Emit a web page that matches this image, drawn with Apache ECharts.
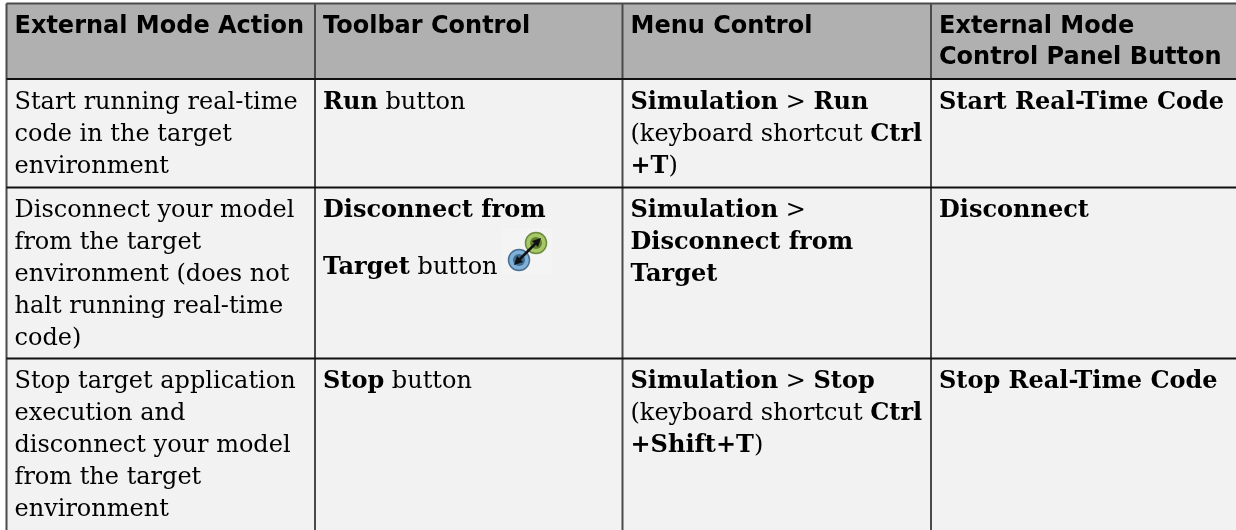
<!DOCTYPE html>
<html>
<head>
<meta charset="utf-8">
<title>External Mode Actions</title>
<script src="https://cdn.jsdelivr.net/npm/echarts@6/dist/echarts.min.js"></script>
<style>
html,body{margin:0;padding:0;background:#fff;}
#chart{width:1236px;height:530px;filter:blur(0.4px);}
</style>
</head>
<body>
<div id="chart"></div>
<script>
// table text, one array per column, one string per printed line
var headers = [
    ['External Mode Action'],
    ['Toolbar Control'],
    ['Menu Control'],
    ['External Mode', 'Control Panel Button']
];
var actions = [
    ['Start running real-time', 'code in the target', 'environment'],
    ['Disconnect your model', 'from the target', 'environment (does not', 'halt running real-time', 'code)'],
    ['Stop target application', 'execution and', 'disconnect your model', 'from the target', 'environment']
];
var toolbarControls = [
    ['{b|Run} button'],
    ['{b|Disconnect from}', '{b|Target} button'],
    ['{b|Stop} button']
];
var menuControls = [
    ['{b|Simulation} > {b|Run}', '(keyboard shortcut {b|Ctrl}', '{b|+T})'],
    ['{b|Simulation} >', '{b|Disconnect from}', '{b|Target}'],
    ['{b|Simulation} > {b|Stop}', '(keyboard shortcut {b|Ctrl}', '{b|+Shift+T})']
];
var panelButtons = [
    ['{b|Start Real-Time Code}'],
    ['{b|Disconnect}'],
    ['{b|Stop Real-Time Code}']
];

var columns = [actions, toolbarControls, menuControls, panelButtons];

// layout, in page pixels
var colEdges = [6.5, 315, 622.5, 931, 1236];
var rowEdges = [3.5, 79, 187.5, 358.5, 530];
var padX = 8;
var headLine = 31;
var bodyLine = 32;
var fontPx = 24;

var serif = '"DejaVu Serif"';
var sans = '"DejaVu Sans"';

var cells = [];
for (var c = 0; c < 4; c++) {
    for (var r = 0; r < 4; r++) {
        cells.push([c, r]);
    }
}

function cellLines(c, r) {
    return r === 0 ? headers[c] : columns[c][r - 1];
}

function renderCell(params, api) {
    var c = api.value(0), r = api.value(1);
    var p0 = api.coord([colEdges[c], rowEdges[r]]);
    var p1 = api.coord([colEdges[c + 1], rowEdges[r + 1]]);
    var children = [{
        type: 'rect',
        shape: {x: p0[0], y: p0[1], width: p1[0] - p0[0], height: p1[1] - p0[1]},
        style: {fill: r === 0 ? '#b0b0b0' : '#f2f2f2'}
    }];
    var lines = cellLines(c, r);
    var step = r === 0 ? headLine : bodyLine;
    var first = r === 0 ? p0[1] + 23 : p0[1] + 23.5;
    for (var i = 0; i < lines.length; i++) {
        // the line with the icon sits lower in the reference
        var extra = (c === 1 && r === 2 && i === 1) ? 25 : 0;
        children.push({
            type: 'text',
            style: {
                x: p0[0] + padX,
                y: first + step * i + extra,
                text: lines[i],
                fill: '#000',
                fontFamily: r === 0 ? sans : serif,
                fontWeight: r === 0 ? 'bold' : 'normal',
                fontSize: fontPx,
                verticalAlign: 'middle',
                rich: {b: {fontFamily: serif, fontWeight: 'bold', fontSize: fontPx, fill: '#000'}}
            }
        });
    }
    return {type: 'group', children: children};
}

function renderBorders(params, api) {
    var children = [];
    var i, a, b;
    for (i = 0; i < 4; i++) {
        a = api.coord([colEdges[i], rowEdges[0]]);
        b = api.coord([colEdges[i], rowEdges[4]]);
        children.push({type: 'line', shape: {x1: a[0], y1: a[1], x2: b[0], y2: b[1]},
            style: {stroke: '#4a4a4a', lineWidth: 2}});
    }
    for (i = 0; i < 4; i++) {
        a = api.coord([colEdges[0], rowEdges[i]]);
        b = api.coord([colEdges[4], rowEdges[i]]);
        children.push({type: 'line', shape: {x1: a[0], y1: a[1], x2: b[0], y2: b[1]},
            style: {stroke: i === 0 ? '#4a4a4a' : '#111', lineWidth: 2}});
    }
    return {type: 'group', children: children};
}

// the small toolbar glyph beside "Target button"
function renderIcon(params, api) {
    var o = api.coord([api.value(0), api.value(1)]);
    return {
        type: 'group',
        x: o[0], y: o[1],
        children: [
            {type: 'rect', shape: {x: -17, y: -32, width: 50, height: 47}, style: {fill: '#f4f4f4'}},
            {type: 'circle', shape: {cx: 0, cy: 0, r: 10.5}, style: {fill: '#7fb0d8', stroke: '#4a6f92', lineWidth: 1.5}},
            {type: 'circle', shape: {cx: 0, cy: 0, r: 6}, style: {fill: '#3f6a90'}},
            {type: 'circle', shape: {cx: 17, cy: -17, r: 10.5}, style: {fill: '#a8c868', stroke: '#6a8a3e', lineWidth: 1.5}},
            {type: 'circle', shape: {cx: 17, cy: -17, r: 6}, style: {fill: '#5e7f30'}},
            {type: 'line', shape: {x1: 0, y1: 0, x2: 17, y2: -17}, style: {stroke: '#111', lineWidth: 2.5}},
            {type: 'polygon', shape: {points: [[-5, 5], [4, 2], [-2, -4]]}, style: {fill: '#111'}},
            {type: 'polygon', shape: {points: [[22, -22], [13, -19], [19, -13]]}, style: {fill: '#111'}}
        ]
    };
}

var chart = echarts.init(document.getElementById('chart'), null, {renderer: 'canvas'});
chart.setOption({
    animation: false,
    tooltip: {show: false},
    grid: {left: 0, right: 0, top: 0, bottom: 0},
    xAxis: {type: 'value', min: 0, max: 1236, show: false},
    yAxis: {type: 'value', min: 0, max: 530, inverse: true, show: false},
    series: [
        {type: 'custom', renderItem: renderCell, data: cells, clip: false, silent: true, z: 1},
        {type: 'custom', renderItem: renderBorders, data: [[0, 0]], clip: true, silent: true, z: 2},
        {type: 'custom', renderItem: renderIcon, data: [[519, 260]], silent: true, z: 3}
    ]
});
</script>
</body>
</html>
